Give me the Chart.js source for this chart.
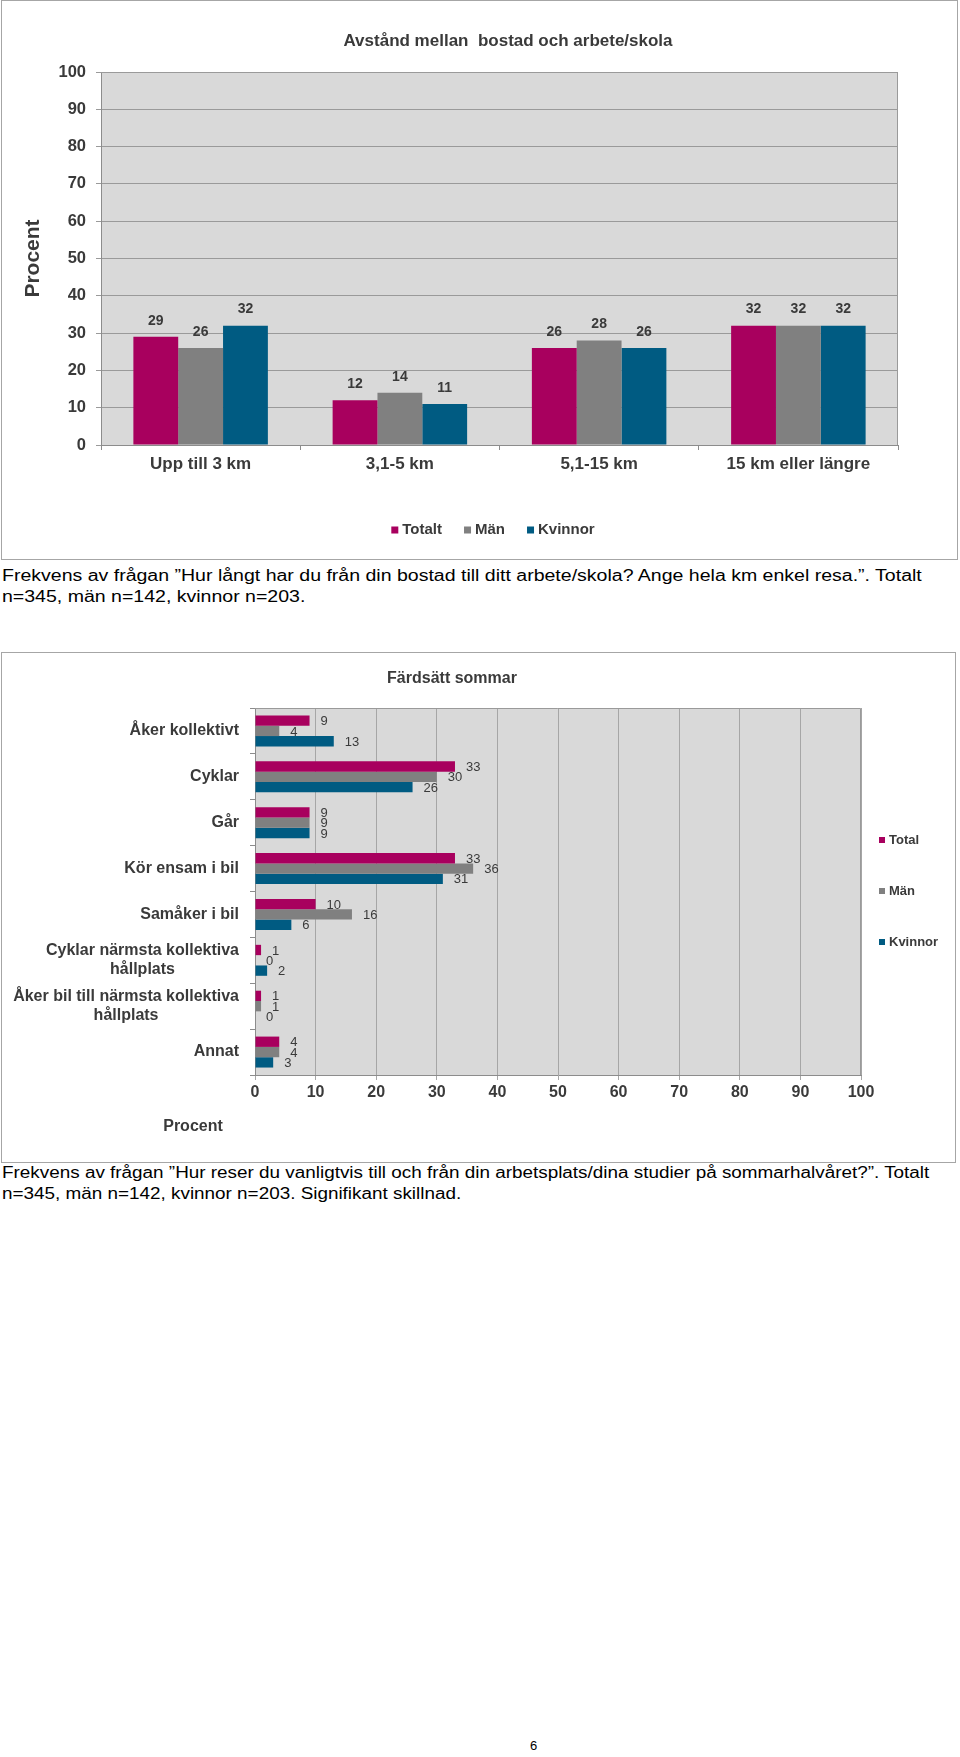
<!DOCTYPE html>
<html>
<head>
<meta charset="utf-8">
<script src="https://cdn.jsdelivr.net/npm/chart.js@4.4.1/dist/chart.umd.min.js"></script>
<style>
  html, body { margin: 0; padding: 0; background: #fff; }
  body { position: relative; width: 960px; height: 1757px; overflow: hidden; font-family: "Liberation Sans", Arial, sans-serif; }
  .box { position: absolute; border: 1px solid #a6a6a6; background: #fff; }
  .box canvas { display: block; }
  .caption { position: absolute; left: 2px; font-size: 16px; line-height: 20.5px; color: #000; white-space: nowrap; transform-origin: 0 0; }
  .pageno { position: absolute; left: 530px; top: 1738px; font-size: 13px; }
</style>
</head>
<body>
<div class="box" style="left:1px; top:0px; width:955px; height:558px;">
  <canvas id="distChart" width="955" height="558"></canvas>
</div>
<div class="caption" style="top:566px; transform: scaleX(1.22);">Frekvens av frågan ”Hur långt har du från din bostad till ditt arbete/skola? Ange hela km enkel resa.”. Totalt<br>n=345, män n=142, kvinnor n=203.</div>

<div class="box" style="left:1px; top:652px; width:953px; height:509px;">
  <canvas id="modeChart" width="953" height="509"></canvas>
</div>
<div class="caption" style="top:1163px; transform: scaleX(1.18);">Frekvens av frågan ”Hur reser du vanligtvis till och från din arbetsplats/dina studier på sommarhalvåret?”. Totalt<br>n=345, män n=142, kvinnor n=203. Signifikant skillnad.</div>

<div class="pageno">6</div>

<script>
// Avstånd mellan bostad och arbete/skola
const distCategories = ['Upp till 3 km', '3,1-5 km', '5,1-15 km', '15 km eller längre'];
const distTotalt = [29, 12, 26, 32];
const distMan = [26, 14, 28, 32];
const distKvinnor = [32, 11, 26, 32];
const distTicks = [0, 10, 20, 30, 40, 50, 60, 70, 80, 90, 100];

// Färdsätt sommar
const modeCategories = [
  ['Åker kollektivt'],
  ['Cyklar'],
  ['Går'],
  ['Kör ensam i bil'],
  ['Samåker i bil'],
  ['Cyklar närmsta kollektiva', 'hållplats'],
  ['Åker bil till närmsta kollektiva', 'hållplats'],
  ['Annat']
];
const modeTotal = [9, 33, 9, 33, 10, 1, 1, 4];
const modeMan = [4, 30, 9, 36, 16, 0, 1, 4];
const modeKvinnor = [13, 26, 9, 31, 6, 2, 0, 3];
const modeTicks = [0, 10, 20, 30, 40, 50, 60, 70, 80, 90, 100];

const MAGENTA = '#a8005e';
const GREY = '#808080';
const PETROL = '#005b82';
const TEXT = '#3a3a3a';
const FONT = '"Liberation Sans", Arial, sans-serif';

Chart.defaults.font.family = FONT;
Chart.defaults.color = TEXT;

// grey plot background + top/right frame
const plotBg = {
  id: 'plotBg',
  beforeDraw(chart) {
    const { ctx, chartArea: a } = chart;
    ctx.save();
    ctx.fillStyle = '#d9d9d9';
    ctx.fillRect(a.left, a.top, a.right - a.left, a.bottom - a.top);
    ctx.restore();
  },
  beforeDatasetsDraw(chart) {
    const { ctx, chartArea: a } = chart;
    ctx.save();
    ctx.strokeStyle = '#9a9a9a';
    ctx.lineWidth = 1;
    ctx.beginPath();
    ctx.moveTo(a.left, a.top + 0.5);
    ctx.lineTo(a.right - 0.5, a.top + 0.5);
    ctx.lineTo(a.right - 0.5, a.bottom);
    ctx.stroke();
    ctx.restore();
  }
};

// numbers next to / above the bars
const valueLabels = {
  id: 'valueLabels',
  afterDatasetsDraw(chart, args, o) {
    const { ctx } = chart;
    const horizontal = chart.options.indexAxis === 'y';
    ctx.save();
    ctx.font = o.font;
    ctx.fillStyle = TEXT;
    ctx.textBaseline = 'middle';
    ctx.textAlign = horizontal ? 'left' : 'center';
    chart.data.datasets.forEach((ds, i) => {
      chart.getDatasetMeta(i).data.forEach((bar, j) => {
        const v = ds.data[j];
        if (horizontal) ctx.fillText(String(v), bar.x + o.offset, bar.y + 1);
        else ctx.fillText(String(v), bar.x, bar.y - o.offset);
      });
    });
    ctx.restore();
  }
};

// heading, legend and loose axis text
const extras = {
  id: 'extras',
  afterDraw(chart, args, o) {
    const { ctx } = chart;
    ctx.save();
    ctx.fillStyle = TEXT;
    ctx.textBaseline = 'middle';
    if (o.title) {
      ctx.font = o.title.font;
      ctx.textAlign = 'center';
      ctx.fillText(o.title.text, o.title.x, o.title.y);
    }
    if (o.axisText) {
      ctx.font = o.axisText.font;
      ctx.textAlign = 'center';
      ctx.fillText(o.axisText.text, o.axisText.x, o.axisText.y);
    }
    const lg = o.legend;
    if (lg) {
      ctx.font = lg.font;
      ctx.textAlign = 'left';
      const items = chart.data.datasets.map(ds => ({ text: ds.label, color: ds.backgroundColor }));
      if (lg.vertical) {
        items.forEach((it, i) => {
          const y = lg.y + i * lg.step;
          ctx.fillStyle = it.color;
          ctx.fillRect(lg.x, y - lg.box / 2, lg.box, lg.box);
          ctx.fillStyle = TEXT;
          ctx.fillText(it.text, lg.x + lg.box + lg.gap, y);
        });
      } else {
        const widths = items.map(it => lg.box + lg.gap + ctx.measureText(it.text).width);
        const total = widths.reduce((s, w) => s + w, 0) + lg.spacing * (items.length - 1);
        let x = lg.x - total / 2;
        items.forEach((it, i) => {
          ctx.fillStyle = it.color;
          ctx.fillRect(x, lg.y - lg.box / 2, lg.box, lg.box);
          ctx.fillStyle = TEXT;
          ctx.fillText(it.text, x + lg.box + lg.gap, lg.y);
          x += widths[i] + lg.spacing;
        });
      }
    }
    ctx.restore();
  }
};

// category labels: right aligned block, lines centred within it
const wrapLabels = {
  id: 'wrapLabels',
  afterDraw(chart, args, o) {
    const { ctx } = chart;
    const scale = chart.scales.y;
    ctx.save();
    ctx.font = o.font;
    ctx.fillStyle = TEXT;
    ctx.textAlign = 'center';
    ctx.textBaseline = 'middle';
    chart.data.labels.forEach((lines, i) => {
      const yc = scale.getPixelForValue(i);
      const w = Math.max(...lines.map(l => ctx.measureText(l).width));
      const cx = scale.right - o.gap - w / 2;
      lines.forEach((l, k) => ctx.fillText(l, cx, yc + (k - (lines.length - 1) / 2) * o.lineHeight));
    });
    ctx.restore();
  }
};

new Chart(document.getElementById('distChart'), {
  type: 'bar',
  data: {
    labels: distCategories,
    datasets: [
      { label: 'Totalt', data: distTotalt, backgroundColor: MAGENTA },
      { label: 'Män', data: distMan, backgroundColor: GREY },
      { label: 'Kvinnor', data: distKvinnor, backgroundColor: PETROL }
    ]
  },
  options: {
    responsive: false,
    animation: false,
    devicePixelRatio: 1,
    layout: { padding: { top: 71, right: 59, bottom: 74, left: 0 } },
    datasets: { bar: { categoryPercentage: 0.675, barPercentage: 1.0 } },
    scales: {
      x: {
        offset: true,
        grid: { offset: true, drawOnChartArea: false, tickLength: 5, color: '#8c8c8c' },
        border: { color: '#8c8c8c' },
        ticks: { padding: 4, font: { size: 17, weight: 'bold' }, color: TEXT },
        afterFit(scale) { scale.height = 40; }
      },
      y: {
        min: 0,
        max: 100,
        afterBuildTicks(scale) { scale.ticks = distTicks.map(v => ({ value: v })); },
        grid: { color: '#9a9a9a', tickLength: 5 },
        border: { color: '#8c8c8c' },
        ticks: { padding: 10, font: { size: 16.5, weight: 'bold' }, color: TEXT },
        title: { display: true, text: 'Procent', font: { size: 21, weight: 'bold' }, color: TEXT, padding: { top: 19, bottom: 0 } },
        afterFit(scale) { scale.width = 99; }
      }
    },
    plugins: {
      legend: { display: false },
      title: { display: false },
      tooltip: { enabled: false },
      valueLabels: { font: 'bold 14px ' + FONT, offset: 16 },
      extras: {
        title: { text: 'Avstånd mellan  bostad och arbete/skola', x: 506, y: 40, font: 'bold 17px ' + FONT },
        legend: { x: 491, y: 529, box: 7, gap: 4, spacing: 22, font: 'bold 15px ' + FONT }
      }
    }
  },
  plugins: [plotBg, valueLabels, extras]
});

new Chart(document.getElementById('modeChart'), {
  type: 'bar',
  data: {
    labels: modeCategories,
    datasets: [
      { label: 'Total', data: modeTotal, backgroundColor: MAGENTA },
      { label: 'Män', data: modeMan, backgroundColor: GREY },
      { label: 'Kvinnor', data: modeKvinnor, backgroundColor: PETROL }
    ]
  },
  options: {
    indexAxis: 'y',
    responsive: false,
    animation: false,
    devicePixelRatio: 1,
    layout: { padding: { top: 55, right: 94, bottom: 57, left: 0 } },
    datasets: { bar: { categoryPercentage: 0.675, barPercentage: 1.0 } },
    scales: {
      x: {
        min: 0,
        max: 100,
        afterBuildTicks(scale) { scale.ticks = modeTicks.map(v => ({ value: v })); },
        grid: { color: '#a6a6a6', tickLength: 5 },
        border: { color: '#8c8c8c' },
        ticks: { padding: 3, font: { size: 16, weight: 'bold' }, color: TEXT },
        afterFit(scale) { scale.height = 30; }
      },
      y: {
        offset: true,
        grid: { offset: true, drawOnChartArea: false, tickLength: 5, color: '#8c8c8c' },
        border: { color: '#8c8c8c' },
        ticks: { display: false },
        afterFit(scale) { scale.width = 253; }
      }
    },
    plugins: {
      legend: { display: false },
      title: { display: false },
      tooltip: { enabled: false },
      valueLabels: { font: '13px ' + FONT, offset: 11 },
      wrapLabels: { font: 'bold 16px ' + FONT, gap: 16, lineHeight: 18.5 },
      extras: {
        title: { text: 'Färdsätt sommar', x: 450, y: 26, font: 'bold 16px ' + FONT },
        axisText: { text: 'Procent', x: 191, y: 474, font: 'bold 16px ' + FONT },
        legend: { vertical: true, x: 877, y: 187, step: 51, box: 6, gap: 4, font: 'bold 13px ' + FONT }
      }
    }
  },
  plugins: [plotBg, valueLabels, wrapLabels, extras]
});
</script>
</body>
</html>
